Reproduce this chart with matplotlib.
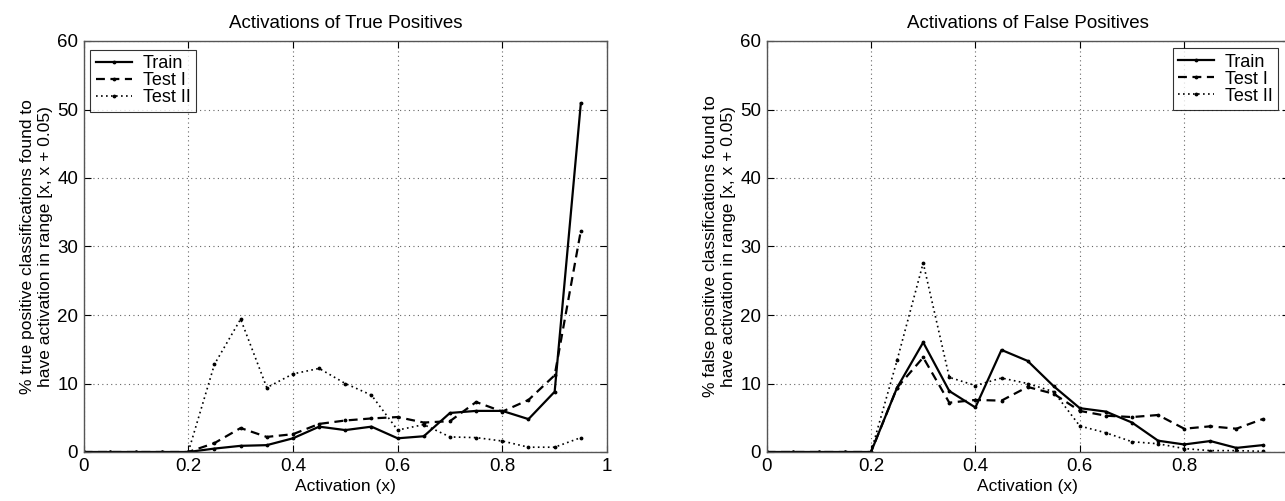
import matplotlib
matplotlib.use("Agg")
import matplotlib.pyplot as plt

plt.rcParams['font.family'] = ['Liberation Sans', 'DejaVu Sans']

activation = [0.00, 0.05, 0.10, 0.15, 0.20, 0.25, 0.30, 0.35, 0.40, 0.45,
              0.50, 0.55, 0.60, 0.65, 0.70, 0.75, 0.80, 0.85, 0.90, 0.95]

tp_train = [0, 0, 0, 0, 0, 0.5, 0.9, 1.0, 2.0, 3.7,
            3.2, 3.7, 2.0, 2.3, 5.7, 6.0, 6.0, 4.8, 8.8, 50.9]
tp_test1 = [0, 0, 0, 0, 0, 1.3, 3.5, 2.2, 2.6, 4.1,
            4.6, 4.9, 5.1, 4.3, 4.5, 7.3, 5.9, 7.6, 11.2, 32.3]
tp_test2 = [0, 0, 0, 0, 0, 12.8, 19.4, 9.4, 11.4, 12.2,
            10.0, 8.3, 3.2, 4.0, 2.2, 2.1, 1.6, 0.7, 0.7, 2.1]

fp_train = [0, 0, 0, 0, 0, 9.4, 16.0, 8.9, 6.5, 14.9,
            13.3, 9.6, 6.4, 5.9, 4.3, 1.65, 1.1, 1.6, 0.6, 1.0]
fp_test1 = [0, 0, 0, 0, 0, 9.4, 13.8, 7.2, 7.6, 7.5,
            9.5, 8.5, 6.0, 5.3, 5.1, 5.4, 3.4, 3.75, 3.4, 4.8]
fp_test2 = [0, 0, 0, 0, 0, 13.4, 27.6, 10.9, 9.7, 10.8,
            10.0, 8.8, 3.8, 2.8, 1.5, 1.2, 0.5, 0.2, 0.2, 0.1]

series_labels = ['Train', 'Test I', 'Test II']
x_ticks = [0, 0.2, 0.4, 0.6, 0.8, 1.0]
x_ticklabels = ['0', '0.2', '0.4', '0.6', '0.8', '1']
y_ticks = [0, 10, 20, 30, 40, 50, 60]

titles = ['Activations of True Positives', 'Activations of False Positives']
ylabels = ['% true positive classifications found to\nhave activation in range [x, x + 0.05)',
           '% false positive classifications found to\nhave activation in range [x, x + 0.05)']
xlabel = 'Activation (x)'

W, H = 1285, 501
fig = plt.figure(figsize=(W / 100, H / 100), dpi=100)
ax1 = fig.add_axes([83.6 / W, 49 / H, 523.4 / W, 411 / H])
ax2 = fig.add_axes([766.6 / W, 49 / H, 522 / W, 411 / H])

styles = [dict(linestyle='-', linewidth=1.6),
          dict(linestyle=(0, (4, 2.5)), linewidth=1.6),
          dict(linestyle=(0, (1, 2)), linewidth=1.2)]

for ax, data, title, ylab, loc, anchor in [
        (ax1, [tp_train, tp_test1, tp_test2], titles[0], ylabels[0], 'upper left', (0.013, 0.978)),
        (ax2, [fp_train, fp_test1, fp_test2], titles[1], ylabels[1], 'upper right', (0.98, 0.982))]:
    for ys, lab, st in zip(data, series_labels, styles):
        ax.plot(activation, ys, color='black', marker='.', markersize=3.5, label=lab, **st)
    ax.set_xlim(0, 1)
    ax.set_ylim(0, 60)
    ax.set_xticks(x_ticks)
    ax.set_xticklabels(x_ticklabels)
    ax.set_yticks(y_ticks)
    ax.grid(True, linestyle=(0, (1, 3)), color='#666666', linewidth=0.8)
    ax.tick_params(direction='in', top=True, right=True, labelsize=13.5, length=5, pad=4)
    for sp in ax.spines.values():
        sp.set_color('#555555')
        sp.set_linewidth(1.0)
    ax.set_title(title, fontsize=13.5, pad=9)
    ax.set_xlabel(xlabel, fontsize=12.5, labelpad=3)
    ax.set_ylabel(ylab, fontsize=12.5, labelpad=3)
    leg = ax.legend(loc=loc, bbox_to_anchor=anchor, fontsize=13, frameon=True,
                    fancybox=False, edgecolor='black', handlelength=2.0,
                    labelspacing=0.0, borderpad=0.3, handletextpad=0.6,
                    borderaxespad=0.0)
    leg.get_frame().set_linewidth(0.8)

fig.savefig('out.png', dpi=100)
